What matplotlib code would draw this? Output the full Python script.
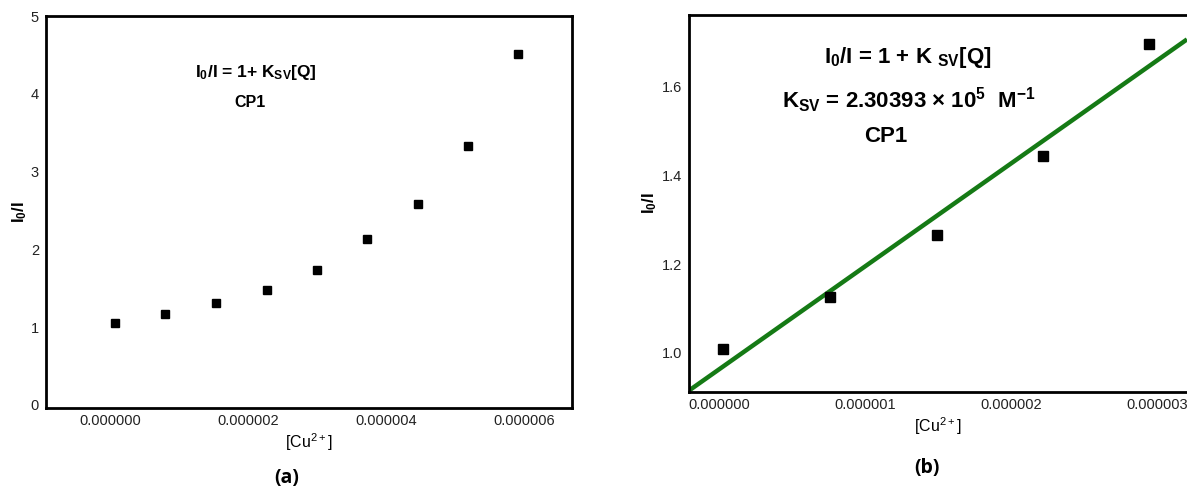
import numpy as np
import matplotlib
matplotlib.use("Agg")
import matplotlib.pyplot as plt
from matplotlib.ticker import FormatStrFormatter, FixedLocator

plt.rcParams['font.family'] = ['Liberation Sans', 'DejaVu Sans']
plt.rcParams['mathtext.fontset'] = 'custom'
plt.rcParams['mathtext.rm'] = 'Liberation Sans'
plt.rcParams['mathtext.bf'] = 'Liberation Sans:bold'
plt.rcParams['mathtext.it'] = 'Liberation Sans:italic'

# panel (a): full titration range
cu_a = [0.07e-6, 0.80e-6, 1.54e-6, 2.27e-6, 3.00e-6, 3.73e-6, 4.46e-6, 5.19e-6, 5.92e-6]
ratio_a = [1.05, 1.17, 1.31, 1.48, 1.73, 2.13, 2.58, 3.33, 4.51]
xticks_a = [0.0, 2e-6, 4e-6, 6e-6]
yticks_a = [0, 1, 2, 3, 4, 5]

# panel (b): linear region with Stern-Volmer fit
cu_b = [0.03e-6, 0.76e-6, 1.49e-6, 2.22e-6, 2.945e-6]
ratio_b = [1.009, 1.127, 1.266, 1.444, 1.697]
xticks_b = [0.0, 1e-6, 2e-6, 3e-6]
yticks_b = [1.0, 1.2, 1.4, 1.6]

W, H = 1187, 494
fig = plt.figure(figsize=(W / 100, H / 100), dpi=100)


def fx(px):
    return px / W


def fy(py):
    return 1 - py / H


def style_axes(ax):
    for s in ax.spines.values():
        s.set_linewidth(2.0)
        s.set_color('black')
    ax.tick_params(length=0, labelsize=10.5, colors='#222222')
    ax.tick_params(axis='x', pad=4)
    ax.tick_params(axis='y', pad=5)
    ax.set_facecolor('white')


# ---- (a)
ax1 = fig.add_axes([fx(46), fy(408), fx(572 - 46), (408 - 16) / H])
ax1.plot(cu_a, ratio_a, 's', color='black', markersize=5.5)
ax1.set_xlim(-0.928e-6, 6.70e-6)
ax1.set_ylim(-0.04, 5.0)
ax1.xaxis.set_major_locator(FixedLocator(xticks_a))
ax1.yaxis.set_major_locator(FixedLocator(yticks_a))
ax1.xaxis.set_major_formatter(FormatStrFormatter('%.6f'))
ax1.yaxis.set_major_formatter(FormatStrFormatter('%d'))
style_axes(ax1)
ax1.set_xlabel(r'[Cu$^{2+}$]', fontsize=11.5, labelpad=3)
ax1.set_ylabel(r'I$_\mathbf{0}$/I', fontsize=12, fontweight='bold', labelpad=1)
fig.text(fx(256), fy(72), r'I$_\mathbf{0}$/I = 1+ K$_\mathbf{SV}$[Q]', fontsize=12.5,
         fontweight='bold', ha='center', va='center')
fig.text(fx(250), fy(102), 'CP1', fontsize=11.5, fontweight='bold',
         ha='center', va='center')
fig.text(fx(287), fy(478), '(a)', fontsize=14, fontweight='bold',
         ha='center', va='center', family='Open Sans')

# ---- (b)
ax2 = fig.add_axes([fx(689), fy(392), 1 - fx(689), (392 - 15) / H])
ax2.plot(cu_b, ratio_b, 's', color='black', markersize=7.5, zorder=3)
xlim_b = (-0.205e-6, 3.205e-6)
slope, icpt = np.polyfit(cu_b, ratio_b, 1)
xl = np.array(xlim_b)
ax2.plot(xl, icpt + slope * xl, color='#157a15', linewidth=3.2, zorder=2,
         solid_capstyle='butt')
ax2.set_xlim(*xlim_b)
ax2.set_ylim(0.912, 1.762)
ax2.xaxis.set_major_locator(FixedLocator(xticks_b))
ax2.yaxis.set_major_locator(FixedLocator(yticks_b))
ax2.xaxis.set_major_formatter(FormatStrFormatter('%.6f'))
ax2.yaxis.set_major_formatter(FormatStrFormatter('%.1f'))
style_axes(ax2)
ax2.spines['right'].set_visible(False)
ax2.set_xlabel(r'[Cu$^{2+}$]', fontsize=11.5, labelpad=3)
ax2.set_ylabel(r'I$_\mathbf{0}$/I', fontsize=12, fontweight='bold', labelpad=2)
fig.text(fx(908), fy(58), r'I$_\mathbf{0}$/I = 1 + K $_\mathbf{SV}$[Q]', fontsize=16,
         fontweight='bold', ha='center', va='center')
fig.text(fx(909), fy(100), r'K$_\mathbf{SV}$ = 2.30393 × 10$^\mathbf{5}$  M$^\mathbf{-1}$',
         fontsize=16, fontweight='bold', ha='center', va='center')
fig.text(fx(886), fy(137), 'CP1', fontsize=16, fontweight='bold',
         ha='center', va='center')
fig.text(fx(927), fy(468), '(b)', fontsize=14, fontweight='bold',
         ha='center', va='center', family='Open Sans')

fig.savefig('out.png', dpi=100)
